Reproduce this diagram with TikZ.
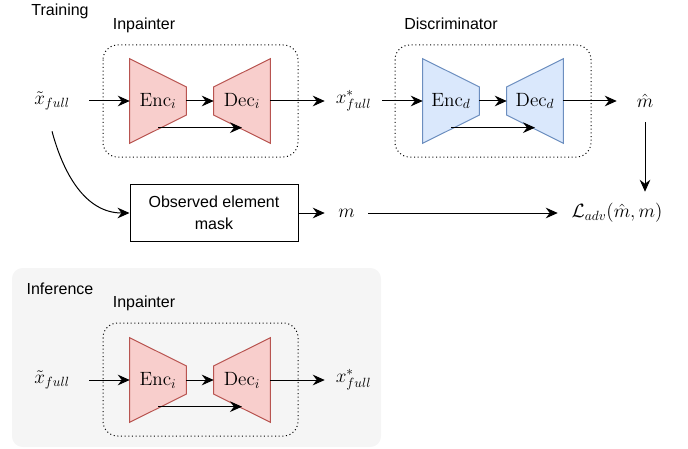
\documentclass[tikz,border=0pt]{standalone}
\usepackage[no-math]{fontspec}
\newfontfamily\labelfont{Liberation Sans}
\usepackage{tikz}
\usetikzlibrary{arrows.meta,positioning,calc,backgrounds}

\definecolor{encfill}{HTML}{F8CECC}
\definecolor{encline}{HTML}{B85450}
\definecolor{discfill}{HTML}{DAE8FC}
\definecolor{discline}{HTML}{6C8EBF}
\definecolor{panelgray}{HTML}{F5F5F5}

\tikzset{
  arr/.style={-{Stealth[length=9pt,width=8pt,inset=3pt]}, line width=0.75pt},
  lbl/.style={font=\labelfont\fontsize{12}{16.5}\selectfont, inner sep=0pt},
  mathlbl/.style={font=\fontsize{14.4}{17}\selectfont, inner sep=0pt},
  block/.style={minimum width=42pt, minimum height=63pt, inner sep=0pt, font=\fontsize{14.4}{17}\selectfont},
  groupbox/.style={dotted, line width=0.75pt, rounded corners=11pt},
}

% trapezoids behind the Enc/Dec nodes
\newcommand{\encshape}[2]{%
  \filldraw[fill=#2fill, draw=#2line, line width=0.75pt] (#1.north west)
    -- ($(#1.north east)!.333!(#1.south east)$)
    -- ($(#1.north east)!.667!(#1.south east)$)
    -- (#1.south west) -- cycle;}
\newcommand{\decshape}[2]{%
  \filldraw[fill=#2fill, draw=#2line, line width=0.75pt] (#1.north east)
    -- ($(#1.north west)!.333!(#1.south west)$)
    -- ($(#1.north west)!.667!(#1.south west)$)
    -- (#1.south east) -- cycle;}

\begin{document}
\begin{tikzpicture}[x=0.75pt, y=-0.75pt]
\useasboundingbox (0,0) rectangle (688,449);

% Inference panel
\begin{scope}[on background layer]
\fill[panelgray, rounded corners=8pt] (12,268) rectangle (381,447);
\end{scope}

% Training: inpainter
\node[lbl] (train) at (60,11) {Training};
\node[lbl] (inp) at (144,25) {Inpainter};
\draw[groupbox] (103,45) rectangle (298,157);

\node[mathlbl, minimum width=55.5pt, minimum height=45pt] (xin) at (52,101) {$\tilde{x}_{full}$};
\node[block] (enci) at (158,101) {$\mathrm{Enc}_i$};
\node[block] (deci) at (242,101) {$\mathrm{Dec}_i$};
\node[mathlbl, minimum width=42.75pt] (xstar) at (353.5,101) {$x^*_{full}$};

% Training: discriminator
\node[lbl] (disc) at (451,24) {Discriminator};
\draw[groupbox] (395,45) rectangle (591,157);

\node[block] (encd) at (451,101) {$\mathrm{Enc}_d$};
\node[block] (decd) at (535,101) {$\mathrm{Dec}_d$};
\node[mathlbl, minimum width=42pt, minimum height=31.5pt] (mhat) at (645,101) {$\hat{m}$};

% Mask and loss
\node[lbl, draw, line width=0.75pt, minimum width=126pt, minimum height=42.75pt, align=center] (mask) at (214,213) {Observed element\\mask};
\node[mathlbl, minimum width=32.25pt] (m) at (346.5,213) {$m$};
\node[mathlbl, minimum width=88.5pt, minimum height=31.5pt] (ladv) at (617,213) {$\mathcal{L}_{adv}(\hat{m},m)$};

% Inference
\node[lbl] (infer) at (60,289) {Inference};
\node[lbl] (inp2) at (144,303) {Inpainter};
\draw[groupbox] (103,323) rectangle (298,436);

\node[mathlbl, minimum width=55.5pt] (xin2) at (52,380) {$\tilde{x}_{full}$};
\node[block] (enci2) at (158,380) {$\mathrm{Enc}_i$};
\node[block] (deci2) at (242,380) {$\mathrm{Dec}_i$};
\node[mathlbl, minimum width=42.75pt] (xstar2) at (353.5,380) {$x^*_{full}$};

% Shapes
\begin{scope}[on background layer]
\encshape{enci}{enc}
\decshape{deci}{enc}
\encshape{encd}{disc}
\decshape{decd}{disc}
\encshape{enci2}{enc}
\decshape{deci2}{enc}
\end{scope}

% Arrows
\draw[arr] (xin) -- (enci);
\draw[arr] (enci) -- (deci);
\draw[arr] ([yshift=-20pt]enci.center) -- ([yshift=-20pt]deci.center);
\draw[arr] (deci) -- (xstar);
\draw[arr] (xstar) -- (encd);
\draw[arr] (encd) -- (decd);
\draw[arr] ([yshift=-20pt]encd.center) -- ([yshift=-20pt]decd.center);
\draw[arr] (decd) -- (mhat);
\draw[arr] (mhat) -- (mhat |- ladv.north);
\draw[arr] (xin.south) to[out=-75,in=180] (mask.west);
\draw[arr] (mask) -- (m);
\draw[arr] (m) -- (ladv);

\draw[arr] (xin2) -- (enci2);
\draw[arr] (enci2) -- (deci2);
\draw[arr] ([yshift=-20pt]enci2.center) -- ([yshift=-20pt]deci2.center);
\draw[arr] (deci2) -- (xstar2);

\end{tikzpicture}
\end{document}
